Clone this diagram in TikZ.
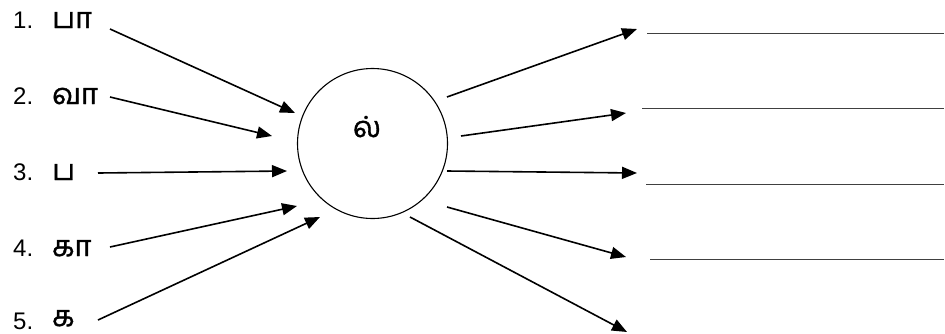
\documentclass[tikz,border=0pt]{standalone}
\usepackage{fontspec}
\setmainfont{Liberation Sans}
\newfontfamily\tamilfont[Script=Tamil,FakeBold=1.2]{Hind Madurai}
\usetikzlibrary{arrows.meta}
\tikzset{
  arr/.style={line width=1.6pt,-{Triangle[length=15pt,width=12pt]}},
  num/.style={anchor=base west,inner sep=0pt,font=\fontsize{24}{26}\selectfont},
  tam/.style={anchor=base west,inner sep=0pt,font=\fontsize{29}{32}\selectfont\tamilfont},
  blank/.style={draw=black!75,line width=0.9pt}
}
\begin{document}
\begin{tikzpicture}[x=1pt,y=-1pt]
\useasboundingbox (0,0) rectangle (945,333);
% left labels
\node[num] (n1) at (13,28) {1.};  \node[tam] (t1) at (52,28) {பா};
\node[num] (n2) at (13,104) {2.}; \node[tam] (t2) at (52,104) {வா};
\node[num] (n3) at (13,180) {3.}; \node[tam] (t3) at (52,180) {ப};
\node[num] (n4) at (13,256) {4.}; \node[tam] (t4) at (52,256) {கா};
\node[num] (n5) at (13,329) {5.}; \node[tam] (t5) at (52,326) {க};
% circle
\node[draw,circle,line width=1.1pt,minimum size=150pt,inner sep=0pt] (c) at (372.5,143.5) {};
\node[font=\fontsize{29}{32}\selectfont\tamilfont,inner sep=0pt,anchor=base] (l) at (367,137) {ல்};
% incoming arrow ends
\coordinate (a1) at (110,29);  \coordinate (b1) at (295,113);
\coordinate (a2) at (110,97);  \coordinate (b2) at (272,136);
\coordinate (a3) at (98,173);  \coordinate (b3) at (287,171);
\coordinate (a4) at (110,247); \coordinate (b4) at (297,206);
\coordinate (a5) at (98,320);  \coordinate (b5) at (320,217);
\foreach \i in {1,...,5}{\draw[arr] (a\i) -- (b\i);}
% outgoing arrows
\coordinate (c1) at (447,97);  \coordinate (d1) at (637,29);
\coordinate (c2) at (461,136); \coordinate (d2) at (626,113);
\coordinate (c3) at (447,171); \coordinate (d3) at (637,173);
\coordinate (c4) at (447,207); \coordinate (d4) at (626,257);
\coordinate (c5) at (410,217); \coordinate (d5) at (627,332);
\foreach \i in {1,...,5}{\draw[arr] (c\i) -- (d\i);}
% answer lines
\coordinate (e1) at (647,33);  \coordinate (f1) at (944,33);
\coordinate (e2) at (642,108); \coordinate (f2) at (944,108);
\coordinate (e3) at (646,184); \coordinate (f3) at (944,184);
\coordinate (e4) at (650,259); \coordinate (f4) at (944,259);
\foreach \i in {1,...,4}{\draw[blank] (e\i) -- (f\i);}
\end{tikzpicture}
\end{document}
